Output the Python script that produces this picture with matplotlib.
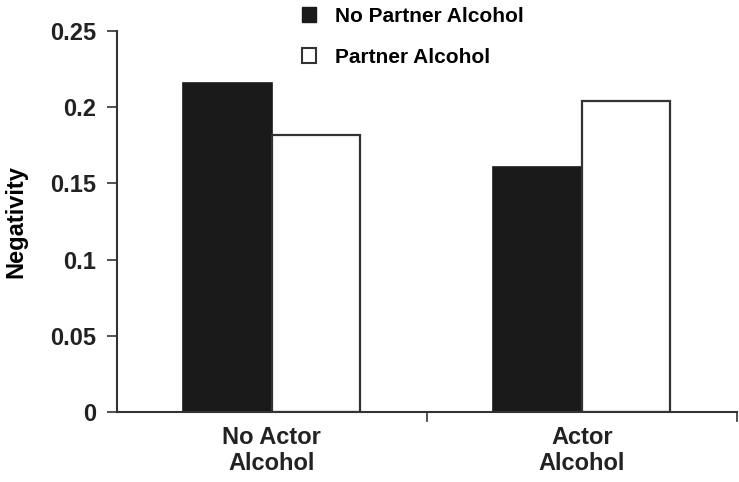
import matplotlib.pyplot as plt
import numpy as np
from matplotlib.patches import Patch

# data
groups = ["No Actor\nAlcohol", "Actor\nAlcohol"]
no_partner = [0.216, 0.161]
partner = [0.182, 0.204]
series_names = ["No Partner Alcohol", "Partner Alcohol"]
yticks = [0, 0.05, 0.1, 0.15, 0.2, 0.25]
ytick_labels = ["0", "0.05", "0.1", "0.15", "0.2", "0.25"]

plt.rcParams['font.family'] = ['Liberation Sans', 'DejaVu Sans']

fig = plt.figure(figsize=(7.39, 4.82), dpi=100)
ax = fig.add_axes([0.158, 0.145, 0.839, 0.791])

x = np.arange(len(groups))
w = 0.285
ax.bar(x - w / 2, no_partner, w, color="#1a1a1a", edgecolor="#1a1a1a", linewidth=1.2)
ax.bar(x + w / 2, partner, w, color="white", edgecolor="#333333", linewidth=1.6)

ax.set_xlim(-0.5, 1.5)
ax.set_ylim(0, 0.25)
ax.set_yticks(yticks)
ax.set_yticklabels(ytick_labels, fontsize=17, fontweight="bold", color="#222222")
ax.set_xticks(x)
ax.set_xticklabels(groups, fontsize=17, fontweight="bold", color="#222222",
                   linespacing=1.15)
ax.tick_params(axis="x", length=0, pad=10)
ax.tick_params(axis="y", length=7, width=1.2, color="#333333", pad=8)
# category boundary ticks on the x axis
for b in [0.5, 1.5]:
    ax.plot([b, b], [0, -0.006], color="#333333", lw=1.2, clip_on=False)

for s in ["top", "right"]:
    ax.spines[s].set_visible(False)
for s in ["left", "bottom"]:
    ax.spines[s].set_linewidth(1.5)
    ax.spines[s].set_color("#333333")

ax.set_ylabel("Negativity", fontsize=17, fontweight="bold", labelpad=16)

handles = [Patch(facecolor="#1a1a1a", edgecolor="#1a1a1a"),
           Patch(facecolor="white", edgecolor="#333333", linewidth=1.5)]
fig.legend(handles, series_names, loc="upper left", bbox_to_anchor=(0.383, 1.025),
           frameon=False, prop={"size": 15, "weight": "bold"},
           handlelength=0.7, handleheight=0.7, labelspacing=1.05, handletextpad=0.9)

plt.savefig("out.png", dpi=100)
